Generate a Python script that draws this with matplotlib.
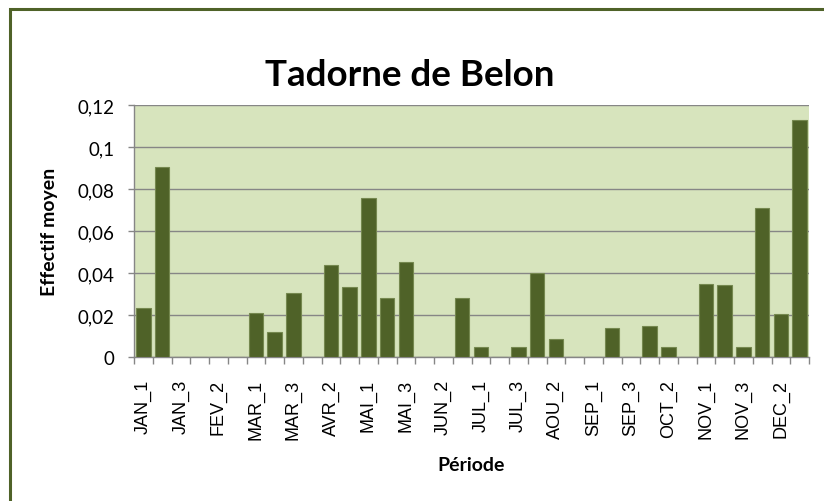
import matplotlib
matplotlib.use("Agg")
import matplotlib.pyplot as plt
import numpy as np
from matplotlib.patches import Rectangle

# periods (3 per month) and mean counts
months = ["JAN", "FEV", "MAR", "AVR", "MAI", "JUN",
          "JUL", "AOU", "SEP", "OCT", "NOV", "DEC"]
periods = [m + "_" + str(k) for m in months for k in (1, 2, 3)]
values = [0.0232, 0.0903, 0, 0, 0, 0,
          0.0208, 0.0118, 0.0305, 0, 0.0438, 0.0332,
          0.0756, 0.0279, 0.0452, 0, 0, 0.0279,
          0.0046, 0, 0.0046, 0.0400, 0.0084, 0,
          0, 0.0137, 0, 0.0146, 0.0046, 0,
          0.0346, 0.0343, 0.0046, 0.0711, 0.0203, 0.1129]
yticks = [0, 0.02, 0.04, 0.06, 0.08, 0.1, 0.12]
ytick_labels = ["0", "0,02", "0,04", "0,06", "0,08", "0,1", "0,12"]

W, H = 824, 502
fig = plt.figure(figsize=(W / 100, H / 100), dpi=100)
fig.patch.set_facecolor("white")

ax = fig.add_axes([134 / W, 1 - 358 / H, (809 - 134) / W, (358 - 106) / H])
ax.set_facecolor("#d7e4bd")

x = np.arange(len(periods))
ax.bar(x, values, width=0.77, color="#4f6228", edgecolor="#75884f",
       linewidth=0.8, zorder=3)

ax.set_xlim(-0.5, len(periods) - 0.5)
ax.set_ylim(0, 0.12)
ax.set_yticks(yticks)
ax.set_yticklabels(ytick_labels, fontfamily="Lato", fontsize=13.5)
ax.yaxis.grid(True, color="#868686", linewidth=1.0, zorder=1)
ax.tick_params(axis="y", length=4, width=1, color="#868686", pad=10)

# category labels every other period, ticks at category boundaries
ax.set_xticks(x[::2])
ax.set_xticklabels(periods[::2], rotation=90, fontfamily="Liberation Sans",
                   fontsize=13)
ax.tick_params(axis="x", which="major", length=0, pad=16)
ax.set_xticks(np.arange(-0.5, len(periods)), minor=True)
ax.tick_params(axis="x", which="minor", length=5, width=1, color="#868686")

for s in ["top", "right"]:
    ax.spines[s].set_visible(False)
for s in ["left", "bottom"]:
    ax.spines[s].set_color("#868686")
    ax.spines[s].set_linewidth(1.0)

# axis titles
fig.text(50 / W, 1 - 232 / H, "Effectif moyen", rotation=90, ha="center",
         va="center", fontfamily="Lato", fontweight="bold", fontsize=14)
fig.text(471 / W, 1 - 466 / H, "Période", ha="center", va="center",
         fontfamily="Lato", fontweight="bold", fontsize=14)

fig.text(410 / W, 1 - 75 / H, "Tadorne de Belon", ha="center", va="center",
         fontfamily="Lato", fontweight="bold", fontsize=26.5)

# outer chart border (clipped at right and bottom like the original)
fig.patches.append(Rectangle((9.5 / W, -0.1), 1.2, 1.1 - 9.5 / H,
                             transform=fig.transFigure, fill=False,
                             edgecolor="#4f6228", linewidth=2.2))

fig.savefig("out.png", dpi=100)
